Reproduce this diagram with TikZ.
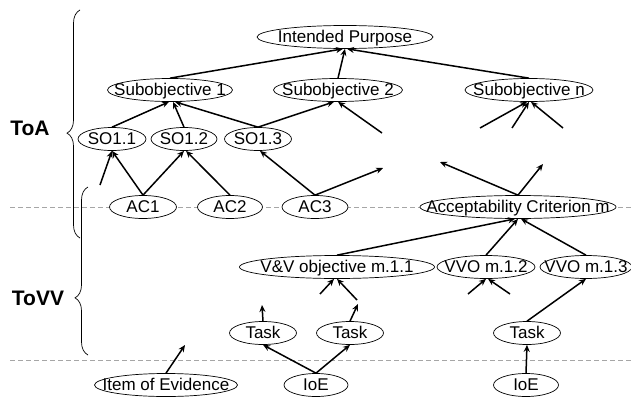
\documentclass[tikz,border=0pt]{standalone}
\usepackage{fontspec}
\setmainfont{Liberation Sans}
\usetikzlibrary{shapes.geometric,arrows.meta,decorations.pathreplacing}
\newcommand{\tx}[1]{\makebox[0pt]{#1}}

\begin{document}
\begin{tikzpicture}[x=1pt, y=-1pt,
  goal/.style={ellipse, draw, fill=white, line width=0.7pt, inner sep=0pt,
    minimum height=23pt, text height=12pt, text depth=1pt, font=\fontsize{17}{19}\selectfont},
  support/.style={-{Stealth[length=7pt,width=6pt]}, line width=1.5pt},
  divider/.style={dash pattern=on 5pt off 3pt, gray!70, line width=1pt},
  bracket/.style={decorate, decoration={brace, amplitude=13pt, aspect=#1}, line width=0.7pt},
  layername/.style={font=\fontsize{21}{25}\selectfont\bfseries}]
 \useasboundingbox (0,0) rectangle (631,396);

 \draw [divider] (10,207) -- (631,207);
 \draw [divider] (10,360) -- (631,360);

 \node [layername] (toa) at (30,128) {ToA};
 \node [layername] (tovv) at (38,298) {ToVV};
 \draw [bracket=0.46] (80,238) -- (80,10);
 \draw [bracket=0.34] (88,355) -- (88,187);

 %% ToA
 \node [goal, minimum width=176pt] (ip) at (345,37) {\tx{Intended Purpose}};
 \node [goal, minimum width=125pt] (sub1) at (170,90) {\tx{Subobjective 1}};
 \node [goal, minimum width=129pt] (sub2) at (338,90) {\tx{Subobjective 2}};
 \node [goal, minimum width=128pt] (subn) at (529,90) {\tx{Subobjective n}};
 \node [goal, minimum width=68pt] (so11) at (112,139) {\tx{SO1.1}};
 \node [goal, minimum width=66pt] (so12) at (184,139) {\tx{SO1.2}};
 \node [goal, minimum width=67pt] (so13) at (258,139) {\tx{SO1.3}};
 \node [goal, minimum width=67pt] (ac1) at (143,207) {\tx{AC1}};
 \node [goal, minimum width=65pt] (ac2) at (230,207) {\tx{AC2}};
 \node [goal, minimum width=66pt] (ac3) at (315,207) {\tx{AC3}};
 \node [goal, minimum width=196pt] (acm) at (518,207) {\tx{Acceptability Criterion m}};

 %% ToVV
 \node [goal, minimum width=195pt] (vvo1) at (337,267) {\tx{V\&V objective m.1.1}};
 \node [goal, minimum width=98pt] (vvo2) at (486,267) {\tx{VVO m.1.2}};
 \node [goal, minimum width=92pt] (vvo3) at (586,267) {\tx{VVO m.1.3}};
 \node [goal, minimum width=67pt] (task1) at (263,333) {\tx{Task}};
 \node [goal, minimum width=67pt] (task2) at (350,333) {\tx{Task}};
 \node [goal, minimum width=67pt] (task3) at (527,333) {\tx{Task}};
 \node [goal, minimum width=143pt] (item) at (166,385) {\tx{Item of Evidence}};
 \node [goal, minimum width=64pt] (ioe1) at (316,385) {\tx{IoE}};
 \node [goal, minimum width=65pt] (ioe2) at (526,385) {\tx{IoE}};

 \coordinate (s2a) at (382,133);
 \coordinate (sna) at (480,128);
 \coordinate (snb) at (512,128);
 \coordinate (snc) at (563,128);
 \coordinate (so1a) at (100,185);
 \coordinate (ac3a) at (383,168);
 \coordinate (acma) at (440,162);
 \coordinate (acmb) at (543,164);
 \coordinate (vv1a) at (320,294);
 \coordinate (vv1b) at (357,300);
 \coordinate (vv2a) at (468,294);
 \coordinate (vv2b) at (510,294);
 \coordinate (t1a) at (262,305);
 \coordinate (t2a) at (358,304);
 \coordinate (ita) at (185,345);

 \draw [support] (sub1.north) -- ([xshift=-2pt]ip.south);
 \draw [support] (sub2.north) -- (ip.south);
 \draw [support] (subn.north) -- ([xshift=2pt]ip.south);

 \draw [support] (so11.north) -- ([xshift=-1pt]sub1.south);
 \draw [support] (so12.north) -- ([xshift=3pt]sub1.south);
 \draw [support] (so13.north) -- ([xshift=5pt]sub1.south);
 \draw [support] (so13.north) -- ([xshift=-4pt]sub2.south);
 \draw [support] (s2a) -- (sub2.south);
 \draw [support] (sna) -- ([xshift=-2pt]subn.south);
 \draw [support] (snb) -- (subn.south);
 \draw [support] (snc) -- ([xshift=2pt]subn.south);

 \draw [support] (so1a) -- (so11.south);
 \draw [support] (ac1.north) -- (so11.south);
 \draw [support] (ac1.north) -- (so12.south);
 \draw [support] (ac2.north) -- ([xshift=2pt]so12.south);
 \draw [support] (ac3.north) -- ([xshift=2pt]so13.south);
 \draw [support] (ac3.north) -- (ac3a);
 \draw [support] (acm.north) -- (acma);
 \draw [support] (acm.north) -- (acmb);

 \draw [support] (vvo1.north) -- ([xshift=-3pt]acm.south);
 \draw [support] (vvo2.north) -- (acm.south);
 \draw [support] (vvo3.north) -- ([xshift=3pt]acm.south);
 \draw [support] (vv1a) -- ([xshift=-3pt]vvo1.south);
 \draw [support] (vv1b) -- (vvo1.south);
 \draw [support] (vv2a) -- (vvo2.south);
 \draw [support] (vv2b) -- ([xshift=2pt]vvo2.south);

 \draw [support] (task1.north) -- (t1a);
 \draw [support] (task2.north) -- (t2a);
 \draw [support] (task3.north) -- (vvo3.south);
 \draw [support] (ioe1.north) -- (task1.south);
 \draw [support] (ioe1.north) -- (task2.south);
 \draw [support] (ioe2.north) -- (task3.south);
 \draw [support] (item.north) -- (ita);
\end{tikzpicture}
\end{document}
